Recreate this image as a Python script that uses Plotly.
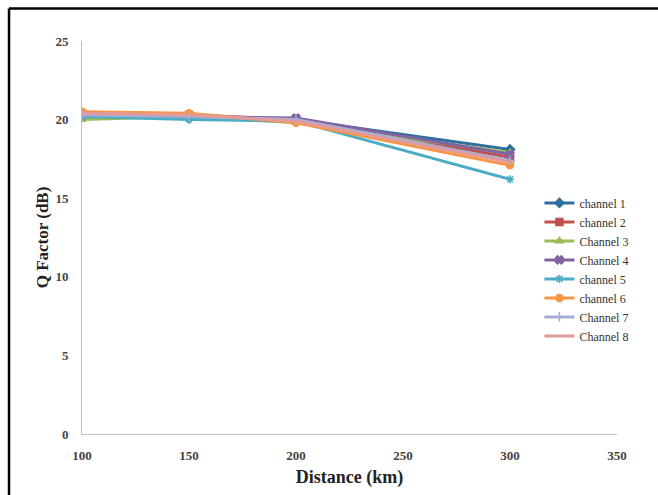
import plotly.graph_objects as go

distance = [100, 150, 200, 300]
names = ["channel 1", "channel 2", "Channel 3", "Channel 4", "channel 5", "channel 6", "Channel 7", "Channel 8"]
ch1 = [20.3, 20.1, 20.0, 18.1]
ch2 = [20.4, 20.3, 20.0, 17.6]
ch3 = [20.0, 20.2, 19.8, 17.9]
ch4 = [20.3, 20.2, 20.1, 17.8]
ch5 = [20.2, 20.0, 19.9, 16.2]
ch6 = [20.5, 20.4, 19.8, 17.1]
ch7 = [20.3, 20.2, 20.0, 17.4]
ch8 = [20.4, 20.3, 19.9, 17.3]
series = [ch1, ch2, ch3, ch4, ch5, ch6, ch7, ch8]
x_ticks = [100, 150, 200, 250, 300, 350]
y_ticks = [0, 5, 10, 15, 20, 25]

colors = ["#2E6FA0", "#C0504D", "#9BBB59", "#8064A2", "#4BACC6", "#F79646", "#A3AED6", "#E39A9A"]
symbols = ["diamond", "square", "triangle-up", "x", "asterisk-open", "circle", "cross-thin-open", "line-ew-open"]

fig = go.Figure()
for nm, vals, c, s in zip(names, series, colors, symbols):
    fig.add_trace(go.Scatter(
        x=distance, y=vals, name=nm, mode="lines+markers",
        line=dict(color=c, width=3),
        marker=dict(symbol=s, size=7, color=c, line=dict(color=c, width=1.5)),
    ))

font = "Liberation Serif, Times New Roman, serif"
fig.update_layout(
    width=658, height=495,
    margin=dict(l=82, r=41, t=41, b=57),
    paper_bgcolor="white", plot_bgcolor="white",
    font=dict(family=font, color="#333333"),
    showlegend=True,
    legend=dict(x=0.855, y=0.625, xanchor="left", yanchor="top",
                font=dict(family=font, size=12, color="#333333"),
                bgcolor="rgba(0,0,0,0)", tracegroupgap=0, itemwidth=30),
    xaxis=dict(range=[100, 350], tickvals=x_ticks, showgrid=False, zeroline=False,
               showline=True, linecolor="#BFBFBF", linewidth=1, ticks="",
               ticklabelstandoff=9,
               tickfont=dict(family=font, size=13, color="#444444", weight="bold"),
               title=dict(text="<b>Distance (km)</b>", font=dict(family=font, size=18, color="#222222"), standoff=8)),
    yaxis=dict(range=[0, 25], tickvals=y_ticks, showgrid=False, zeroline=False,
               showline=True, linecolor="#BFBFBF", linewidth=1, ticks="",
               tickfont=dict(family=font, size=13, color="#444444", weight="bold"),
               ticklabelstandoff=10,
               title=dict(text="<b>Q Factor (dB)</b>", font=dict(family=font, size=17, color="#222222"), standoff=2)),
    shapes=[
        dict(type="line", xref="paper", yref="paper", x0=-0.1364, x1=-0.1364, y0=-0.2, y1=1.083,
             line=dict(color="black", width=2.5)),
        dict(type="line", xref="paper", yref="paper", x0=-0.1364, x1=1.2, y0=1.083, y1=1.083,
             line=dict(color="black", width=2.5)),
    ],
)
fig.write_html("out.html")
